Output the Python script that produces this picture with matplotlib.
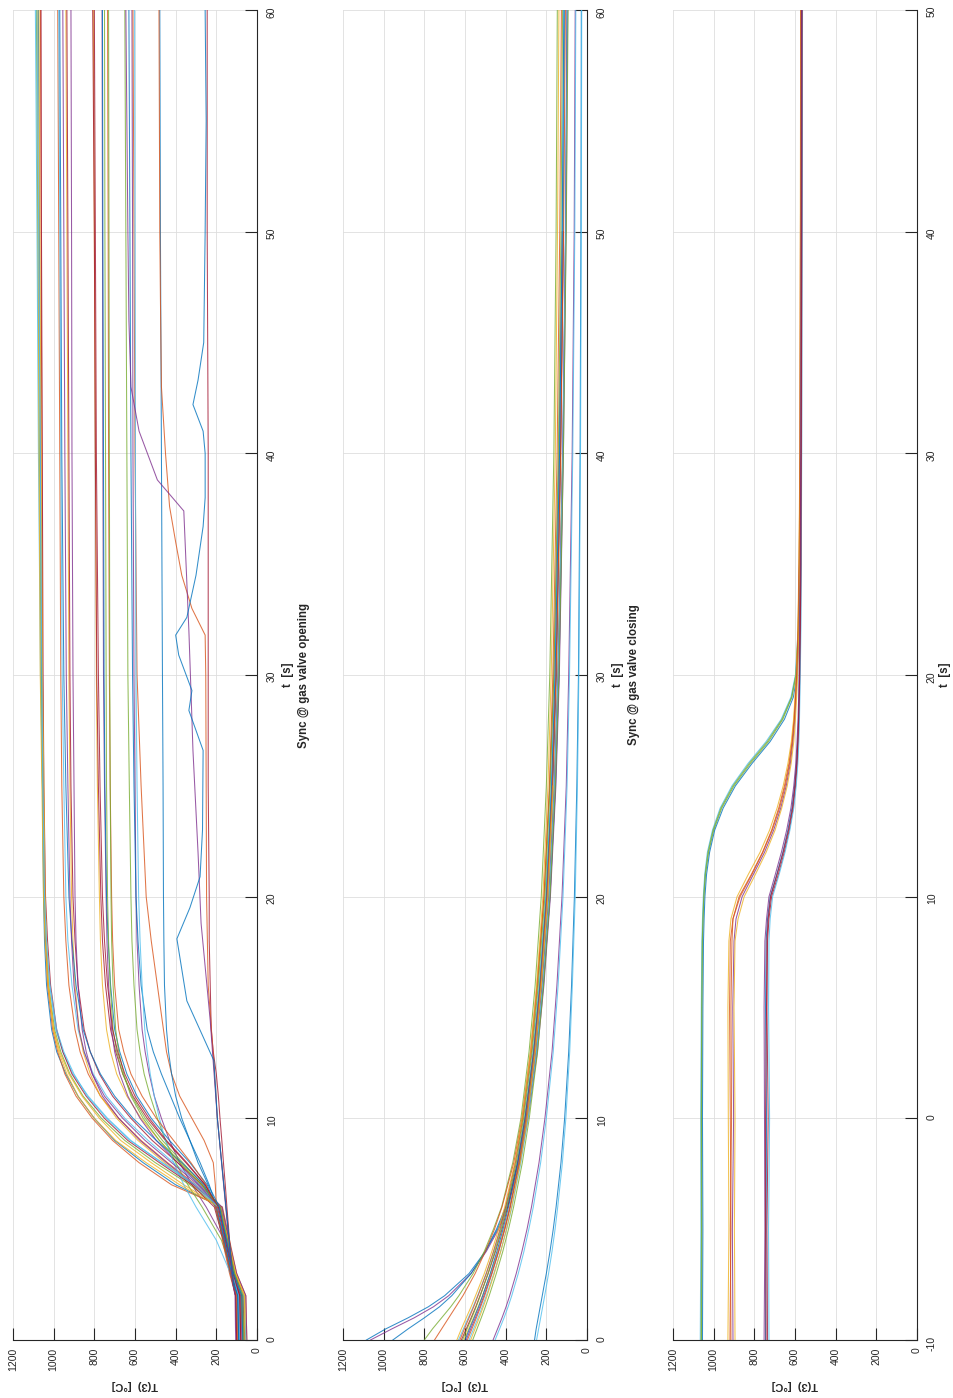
import matplotlib
matplotlib.use('Agg')
import matplotlib.pyplot as plt

plt.rcParams['font.family'] = ['Liberation Sans', 'DejaVu Sans']
plt.rcParams['axes.unicode_minus'] = False

# ---------------- data: panel 1 (sync @ gas valve opening) ----------------
t_open = [0, 2, 3, 4.5, 6, 7, 8, 9, 10, 11, 12, 13, 14, 16, 18, 20, 25, 30, 40, 50, 60]
T_open_A = [
    [60, 65, 110, 140, 175, 400, 560, 700, 800, 880, 940, 985, 1010, 1035, 1045, 1050, 1055, 1060, 1065, 1070, 1075],
    [80, 85, 120, 150, 185, 330, 500, 650, 765, 855, 920, 965, 995, 1025, 1040, 1048, 1055, 1062, 1070, 1078, 1085],
    [50, 55, 100, 135, 170, 420, 580, 710, 810, 890, 945, 980, 1005, 1030, 1040, 1045, 1050, 1055, 1058, 1062, 1065],
    [90, 95, 125, 160, 200, 310, 470, 620, 735, 830, 905, 955, 990, 1020, 1038, 1046, 1055, 1065, 1075, 1082, 1090],
    [70, 75, 115, 145, 180, 360, 520, 670, 775, 860, 925, 970, 1000, 1028, 1042, 1050, 1058, 1066, 1072, 1076, 1080],
    [100, 105, 130, 165, 210, 320, 480, 635, 750, 840, 910, 955, 985, 1015, 1030, 1040, 1048, 1052, 1056, 1060, 1062],
    [60, 62, 105, 140, 185, 380, 545, 695, 800, 880, 935, 975, 1000, 1025, 1035, 1042, 1048, 1055, 1062, 1068, 1072],
    [85, 90, 120, 150, 190, 300, 465, 625, 740, 835, 900, 950, 985, 1018, 1035, 1045, 1052, 1058, 1066, 1074, 1082],
]
T_open_B = [
    [70, 75, 115, 150, 185, 300, 440, 570, 680, 770, 830, 870, 895, 925, 940, 950, 960, 965, 970, 975, 980],
    [95, 100, 125, 160, 200, 280, 410, 535, 650, 740, 805, 850, 880, 910, 930, 940, 950, 958, 965, 970, 975],
    [55, 60, 105, 140, 175, 320, 455, 585, 690, 770, 820, 855, 875, 895, 905, 912, 920, 925, 930, 935, 940],
    [80, 85, 120, 155, 190, 270, 390, 515, 620, 710, 775, 820, 850, 880, 895, 905, 915, 920, 925, 930, 935],
    [65, 70, 110, 145, 180, 310, 445, 575, 680, 760, 810, 840, 860, 880, 890, 895, 900, 905, 910, 912, 915],
    [100, 105, 130, 165, 205, 260, 370, 495, 610, 700, 770, 820, 855, 890, 910, 925, 940, 950, 960, 965, 970],
    [75, 80, 118, 150, 188, 290, 420, 550, 660, 750, 810, 850, 875, 900, 912, 920, 930, 938, 945, 950, 955],
]
T_open_C = [
    [60, 65, 108, 145, 180, 270, 375, 480, 570, 640, 690, 720, 740, 760, 770, 775, 785, 790, 795, 800, 805],
    [85, 90, 122, 158, 195, 255, 350, 450, 540, 610, 660, 695, 720, 745, 760, 768, 780, 788, 795, 800, 808],
    [50, 55, 100, 138, 172, 285, 390, 495, 575, 635, 675, 700, 715, 730, 738, 742, 750, 755, 758, 760, 762],
    [90, 95, 125, 160, 200, 245, 330, 430, 520, 590, 640, 675, 700, 720, 732, 740, 748, 752, 755, 758, 760],
    [70, 75, 112, 148, 185, 265, 365, 465, 550, 615, 660, 690, 708, 722, 730, 735, 740, 742, 745, 748, 750],
    [100, 105, 130, 165, 205, 250, 325, 410, 495, 565, 620, 655, 680, 700, 710, 715, 722, 726, 730, 732, 735],
    [65, 70, 110, 145, 182, 275, 380, 480, 560, 620, 655, 680, 695, 708, 715, 718, 722, 724, 726, 728, 730],
    [80, 85, 118, 152, 190, 255, 345, 445, 530, 600, 650, 685, 710, 735, 750, 760, 772, 780, 790, 795, 800],
]
T_open_D = [
    [60, 70, 115, 160, 250, 320, 380, 430, 470, 505, 530, 550, 565, 580, 590, 595, 600, 605, 610, 612, 615],
    [90, 95, 125, 165, 200, 235, 280, 330, 380, 425, 470, 510, 540, 570, 585, 595, 605, 612, 620, 625, 630],
    [70, 80, 120, 175, 270, 340, 400, 450, 490, 525, 555, 575, 590, 605, 615, 620, 628, 635, 640, 645, 650],
    [100, 105, 135, 170, 200, 205, 215, 260, 320, 380, 420, 445, 460, 490, 520, 545, 570, 590, 600, 605, 610],
    [55, 65, 130, 200, 300, 360, 410, 450, 480, 505, 525, 540, 552, 565, 575, 582, 590, 595, 598, 600, 602],
]
T_open_blue470 = [70, 75, 115, 150, 185, 240, 290, 330, 370, 400, 420, 435, 445, 455, 458, 460, 462, 465, 470, 475, 478]
T_open_red = [100, 105, 122, 135, 148, 156, 165, 173, 182, 190, 200, 215, 225, 230, 235, 235, 240, 240, 240, 245, 245]

t_salmon = [0, 2, 2.5, 10, 12.5, 16, 20, 25, 30, 31.8, 33, 34.5, 36, 37.6, 40, 43, 47, 50, 55, 60]
T_salmon = [95, 100, 115, 195, 212, 240, 248, 250, 252, 255, 320, 370, 400, 430, 450, 470, 475, 478, 480, 482]
t_purple = [0, 2, 2.5, 10, 12.5, 14.4, 18.8, 22, 26.6, 28, 32, 37.4, 38.8, 41, 43, 46, 50, 55, 60]
T_purple = [105, 108, 118, 195, 215, 230, 275, 290, 315, 320, 335, 360, 490, 580, 620, 630, 635, 640, 645]
t_lblue = [0, 2, 2.5, 10, 12.6, 15.3, 18.1, 19.5, 20.9, 23, 26.6, 28.4, 29.3, 30.9, 31.8, 32.6,
           34.5, 36.7, 38, 40, 41, 42.2, 43.3, 45, 50, 55, 60]
T_lblue = [90, 95, 115, 195, 212, 345, 394, 330, 280, 268, 265, 335, 320, 385, 400, 345,
           300, 265, 255, 255, 265, 315, 290, 262, 255, 250, 255]

# ---------------- data: panel 2 (sync @ gas valve closing) ----------------
t_close = [0, 0.5, 1, 1.5, 2, 3, 4, 5, 6, 8, 10, 13, 16, 20, 25, 30, 40, 50, 60]
T_close = [
    [1085, 990, 880, 780, 700, 580, 500, 440, 395, 335, 295, 248, 215, 182, 155, 138, 118, 105, 98],
    [1065, 960, 850, 755, 680, 570, 495, 435, 390, 330, 290, 244, 212, 180, 153, 136, 116, 103, 95],
    [955, 880, 800, 725, 665, 570, 500, 445, 400, 340, 300, 256, 226, 194, 168, 150, 130, 117, 110],
    [800, 760, 715, 670, 630, 560, 505, 460, 420, 365, 325, 285, 255, 225, 200, 183, 163, 152, 146],
    [750, 715, 680, 645, 610, 550, 500, 455, 418, 360, 320, 278, 246, 212, 183, 163, 138, 122],
    [640, 618, 594, 570, 548, 505, 468, 435, 405, 355, 318, 278, 248, 217, 192, 176, 156, 145, 138],
    [632, 608, 584, 560, 538, 496, 458, 425, 395, 346, 308, 266, 236, 203, 176, 158, 135, 121, 112],
    [625, 603, 580, 557, 536, 495, 460, 428, 400, 352, 315, 273, 243, 211, 185, 168, 147, 134, 126],
    [618, 594, 570, 547, 526, 486, 450, 418, 390, 342, 305, 262, 231, 198, 171, 153, 130, 116],
    [612, 590, 567, 545, 525, 487, 453, 422, 395, 348, 312, 270, 240, 207, 181, 163, 141, 128, 120],
    [605, 582, 558, 535, 514, 474, 439, 408, 380, 333, 296, 253, 222, 189, 162, 144, 121],
    [600, 578, 555, 533, 513, 476, 443, 413, 386, 340, 304, 262, 232, 200, 174, 157, 135, 122, 114],
    [594, 572, 549, 527, 507, 469, 435, 404, 377, 331, 295, 252, 221, 188, 161, 143, 120, 106, 98],
    [588, 566, 544, 523, 503, 467, 434, 405, 379, 335, 300, 259, 229, 197, 170, 152, 129, 115, 106],
    [580, 558, 536, 515, 495, 458, 425, 395, 369, 325, 290, 248, 218, 186, 160, 142, 119, 105, 96],
    [572, 551, 530, 510, 491, 456, 424, 396, 371, 328, 294, 254, 225, 193, 167],
    [562, 541, 520, 500, 481, 446, 414, 386, 361, 318, 284, 243, 214, 182, 156, 138, 116, 102, 93],
    [462, 440, 418, 398, 380, 348, 320, 295, 273, 236, 207, 172, 148, 123, 102, 90, 73, 63, 58],
    [452, 430, 408, 388, 370, 338, 310, 286, 264, 228, 200, 166, 142, 118, 98, 86, 70, 60, 55],
    [258, 250, 240, 230, 220, 200, 182, 166, 152, 128, 110, 90, 76, 62, 50, 42, 34, 30, 28],
    [248, 238, 228, 218, 208, 189, 172, 157, 144, 121, 104, 85, 72, 58, 47, 40, 32, 28, 26],
]

# ---------------- data: panel 3 ----------------
t_sync = [-10, -5, 0, 5, 8, 9, 10, 11, 12, 13, 14, 15, 16, 17, 18, 19, 20, 22, 25, 30, 40, 50]
T_sync = [
    [1060, 1058, 1060, 1058, 1055, 1052, 1048, 1040, 1025, 1000, 960, 900, 820, 730, 660, 615, 595, 583, 577, 572, 570, 568],
    [1066, 1063, 1064, 1061, 1058, 1055, 1051, 1044, 1031, 1006, 968, 910, 832, 742, 668, 620, 598, 585, 579, 574, 572, 570],
    [1055, 1053, 1055, 1053, 1050, 1047, 1043, 1035, 1020, 995, 953, 893, 812, 722, 652, 608, 590, 580, 574, 570, 567, 565],
    [1062, 1060, 1061, 1059, 1056, 1053, 1049, 1042, 1028, 1003, 964, 905, 826, 736, 664, 617, 596, 584, 578, 573, 571, 569],
    [915, 918, 912, 915, 910, 905, 875, 815, 760, 715, 680, 652, 630, 615, 605, 598, 592, 585, 580, 575, 573, 571],
    [930, 925, 928, 930, 925, 915, 885, 830, 772, 725, 688, 658, 635, 618, 607, 600, 594, 586, 581, 576, 574, 572],
    [905, 908, 902, 906, 900, 890, 860, 805, 750, 705, 670, 643, 623, 610, 601, 595, 590, 583, 578, 574, 572, 570],
    [920, 915, 918, 922, 918, 905, 870, 812, 758, 712, 676, 648, 627, 613, 603, 597, 591, 584, 579, 575, 573, 571],
    [895, 898, 895, 900, 895, 880, 850, 795, 742, 698, 665, 638, 619, 606, 598, 592, 587, 581, 577, 573, 571, 569],
    [745, 742, 740, 745, 742, 735, 722, 690, 660, 635, 615, 602, 593, 587, 583, 580, 578, 575, 572, 570, 568, 566],
    [735, 738, 732, 738, 735, 728, 715, 682, 653, 628, 609, 597, 589, 584, 580, 578, 576, 573, 570, 568, 566, 564],
    [752, 748, 750, 752, 748, 740, 728, 697, 667, 641, 620, 606, 596, 590, 585, 582, 580, 577, 574, 572, 570, 568],
    [728, 730, 725, 730, 728, 722, 710, 678, 649, 625, 606, 594, 586, 581, 578, 576, 574, 571, 569, 567, 565, 563],
    [742, 745, 745, 740, 738, 732, 720, 688, 658, 632, 612, 600, 591, 586, 582, 579, 577, 574, 571, 569, 567, 565],
]

T_ticks = [0, 200, 400, 600, 800, 1000, 1200]
t_ticks_open = [0, 10, 20, 30, 40, 50, 60]
t_ticks_sync = [-10, 0, 10, 20, 30, 40, 50]
titles = ['Sync @ gas valve opening', 'Sync @ gas valve closing']

# ---------------- styling ----------------
MC = ['#0072BD', '#D95319', '#EDB120', '#7E2F8E', '#77AC30', '#4DBEEE', '#A2142F']
W, H = 954, 1398
AX_TOP, AX_BOT = 10, 1340
AXC = '#262626'
LW, ALPHA = 0.75, 0.8

fig = plt.figure(figsize=(W / 100, H / 100), dpi=100)


def make_axes(x0, x1, ylim, yticks):
    ax = fig.add_axes([x0 / W, (H - AX_BOT) / H, (x1 - x0) / W, (AX_BOT - AX_TOP) / H])
    ax.set_xlim(1200, 0)
    ax.set_ylim(*ylim)
    ax.set_xticks(T_ticks)
    ax.set_yticks(yticks)
    ax.yaxis.tick_right()
    for s in ['top', 'left']:
        ax.spines[s].set_visible(False)
    for s in ['bottom', 'right']:
        ax.spines[s].set_color(AXC)
        ax.spines[s].set_linewidth(0.8)
        ax.spines[s].set_zorder(5)
    ax.tick_params(axis='both', direction='in', length=8.6, width=0.8, colors=AXC,
                   labelsize=7.5)
    ax.tick_params(axis='x', labelrotation=90, pad=5.5)
    ax.tick_params(axis='y', labelrotation=90, pad=7)
    ax.grid(True, color='#dedede', linewidth=0.6)
    ax.set_axisbelow(True)
    xc = (x0 + x1) / 2
    fig.text(xc / W, 1 - 1385 / H, 'T(3)  [°C]', rotation=180, ha='center', va='center',
             fontsize=8, fontweight='bold', color=AXC)
    return ax


def side_label(x, text):
    fig.text(x / W, 1 - 675 / H, text, rotation=90, ha='center', va='center',
             fontsize=8.3, fontweight='bold', color=AXC, multialignment='center',
             linespacing=1.35)


# panel 1
ax1 = make_axes(13, 257, (0, 60), t_ticks_open)
order = []
for a, b, c, d in zip(T_open_A, T_open_B + [None], T_open_C, T_open_D + [None, None, None]):
    for s in (a, b, c, d):
        if s is not None:
            order.append(s)
order.append(T_open_blue470)
for i, s in enumerate(order):
    ax1.plot(s, t_open, color=MC[i % 7], lw=LW, alpha=ALPHA)
ax1.plot(T_open_red, t_open, color=MC[6], lw=LW, alpha=ALPHA)
ax1.plot(T_salmon, t_salmon, color=MC[1], lw=LW, alpha=ALPHA)
ax1.plot(T_purple, t_purple, color=MC[3], lw=LW, alpha=ALPHA)
ax1.plot(T_lblue, t_lblue, color=MC[0], lw=LW, alpha=ALPHA)
side_label(296, 't  [s]\n' + titles[0])

# panel 2
ax2 = make_axes(343, 587, (0, 60), t_ticks_open)
close_cols = [0, 3, 0, 4, 1, 2, 5, 1, 6, 4, 2, 0, 3, 1, 5, 2, 4, 3, 5, 0, 5]
for s, ci in zip(T_close, close_cols):
    ax2.plot(s, t_close[:len(s)], color=MC[ci], lw=LW, alpha=ALPHA)
side_label(626, 't  [s]\n' + titles[1])

# panel 3
ax3 = make_axes(673, 917, (-10, 50), t_ticks_sync)
sync_cols = [4, 5, 0, 4, 1, 2, 3, 1, 2, 0, 6, 3, 5, 6]
for s, ci in zip(T_sync, sync_cols):
    ax3.plot(s, t_sync, color=MC[ci], lw=LW, alpha=ALPHA)
fig.text(945 / W, 1 - 675 / H, 't  [s]', rotation=90, ha='center', va='center',
         fontsize=8.3, fontweight='bold', color=AXC)

fig.savefig('out.png', dpi=100)
